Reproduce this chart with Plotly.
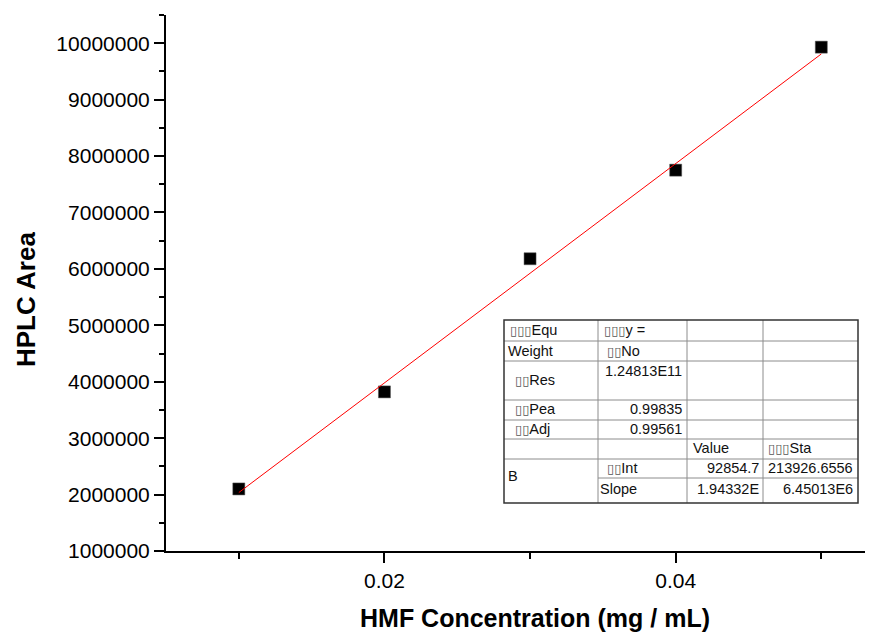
import re
import plotly.graph_objects as go

# ---------------- data ----------------
conc = [0.01, 0.02, 0.03, 0.04, 0.05]                      # mg / mL
area = [2100000, 3820000, 6180000, 7750000, 9930000]       # HPLC area
fit_slope = 1.94332e8
fit_intercept = 92854.7
fit_x = [0.01, 0.05]

x_tick_vals = [0.02, 0.04]
x_tick_text = ["0.02", "0.04"]
y_tick_vals = [1000000, 2000000, 3000000, 4000000, 5000000,
               6000000, 7000000, 8000000, 9000000, 10000000]
y_tick_text = ["1000000", "2000000", "3000000", "4000000", "5000000",
               "6000000", "7000000", "8000000", "9000000", "10000000"]

B = "\u25af"
table_col1 = [B*3 + "Equ", "Weight", B*2 + "Res", B*2 + "Pea", B*2 + "Adj", "", "B", ""]
table_col2 = [B*3 + "y =", B*2 + "No", "1.24813E11", "0.99835", "0.99561", "", B*2 + "Int", "Slope"]
table_col3 = ["", "", "", "", "", "Value", "92854.7", "1.94332E"]
table_col4 = ["", "", "", "", "", B*3 + "Sta", "213926.6556", "6.45013E6"]

# ---------------- layout geometry (pixels) ----------------
W, H = 880, 635
L, R, T, BOT = 166, 15, 15, 84
PW, PH = W - L - R, H - T - BOT


def px(xp):
    return (xp - L) / PW


def py(yp):
    return (H - BOT - yp) / PH


def boxes(s):
    return re.sub("(%s+)" % B,
                  r"<span style='font-size:13px;color:#555555'>\1</span>", s)


FONT = "Liberation Sans, Arial, DejaVu Sans"

fig = go.Figure()
fig.add_trace(go.Scatter(
    x=conc, y=area, mode="markers",
    marker=dict(symbol="square", size=12, color="black",
                line=dict(width=0.5, color="#555")),
    showlegend=False, hoverinfo="x+y"))
fig.add_trace(go.Scatter(
    x=fit_x, y=[fit_slope * v + fit_intercept for v in fit_x],
    mode="lines", line=dict(color="#ff0000", width=1),
    showlegend=False))

fig.update_layout(
    width=W, height=H,
    margin=dict(l=L, r=R, t=T, b=BOT, pad=0),
    paper_bgcolor="white", plot_bgcolor="white",
    font=dict(family=FONT, color="black"),
    xaxis=dict(range=[0.005, 0.053], showgrid=False, zeroline=False,
               showline=True, linecolor="black", linewidth=2,
               ticks="outside", ticklen=10, tickwidth=2, tickcolor="black",
               tickvals=x_tick_vals, ticktext=x_tick_text,
               tickfont=dict(size=21, family=FONT),
               minor=dict(tickvals=[0.01, 0.03, 0.05], ticks="outside",
                          ticklen=6, tickwidth=2, tickcolor="black")),
    yaxis=dict(range=[1000000, 10500000], showgrid=False, zeroline=False,
               showline=True, linecolor="black", linewidth=2,
               ticks="outside", ticklen=10, tickwidth=2, tickcolor="black",
               tickvals=y_tick_vals, ticktext=y_tick_text,
               tickfont=dict(size=21, family=FONT),
               minor=dict(dtick=500000, ticks="outside",
                          ticklen=5, tickwidth=2, tickcolor="black")),
)

annotations = [
    dict(text="<b>HMF Concentration (mg / mL)</b>", x=px(535), y=py(618),
         xref="paper", yref="paper", showarrow=False, xanchor="center",
         yanchor="middle", font=dict(size=25, family=FONT, color="black")),
    dict(text="<b>HPLC Area</b>", x=px(26), y=py(300), textangle=-90,
         xref="paper", yref="paper", showarrow=False, xanchor="center",
         yanchor="middle", font=dict(size=26, family=FONT, color="black")),
]

# ---------------- table ----------------
tx0, tx1 = 504, 858
col_lines = [598, 687, 763]
row_lines = [320, 341, 361, 400, 420, 439, 459, 478, 503]
shapes = []
for yl in row_lines[1:-1]:
    x_start = col_lines[0] if yl == 478 else tx0
    shapes.append(dict(type="line", xref="paper", yref="paper",
                       x0=px(x_start), x1=px(tx1), y0=py(yl), y1=py(yl),
                       line=dict(color="#8c8c8c", width=1)))
for xl in col_lines:
    shapes.append(dict(type="line", xref="paper", yref="paper",
                       x0=px(xl), x1=px(xl), y0=py(row_lines[0]), y1=py(row_lines[-1]),
                       line=dict(color="#8c8c8c", width=1)))
shapes.append(dict(type="rect", xref="paper", yref="paper",
                   x0=px(tx0), x1=px(tx1), y0=py(row_lines[0]), y1=py(row_lines[-1]),
                   line=dict(color="#333333", width=1.5), fillcolor="rgba(0,0,0,0)"))

row_y = [330, 351, 380, 409, 429, 448, 468, 489]
col1_x = [509, 507, 514, 514, 514, 509, 507, 509]
col2_spec = [(603, "left", 330), (606, "left", 351), (683, "right", 371),
             (683, "right", 409), (683, "right", 429), (603, "left", 448),
             (606, "left", 468), (599, "left", 489)]
col3_spec = (692, 760)
col4_spec = (767, 854)

cells = []
for i, t in enumerate(table_col1):
    if t:
        yy = 476 if t == "B" else row_y[i]
        cells.append((t, col1_x[i], yy, "left"))
for i, t in enumerate(table_col2):
    if t:
        xx, anc, yy = col2_spec[i]
        cells.append((t, xx, yy, anc))
for i, t in enumerate(table_col3):
    if t:
        if t == "Value":
            cells.append((t, col3_spec[0], row_y[i], "left"))
        else:
            cells.append((t, col3_spec[1], row_y[i], "right"))
for i, t in enumerate(table_col4):
    if t:
        if "Sta" in t:
            cells.append((t, col4_spec[0], row_y[i], "left"))
        else:
            cells.append((t, col4_spec[1], row_y[i], "right"))

for t, xx, yy, anc in cells:
    annotations.append(dict(text=boxes(t), x=px(xx), y=py(yy), xref="paper", yref="paper",
                            showarrow=False, xanchor=anc, yanchor="middle",
                            borderpad=0,
                            font=dict(size=14.5, family=FONT, color="#111111")))

fig.update_layout(annotations=annotations, shapes=shapes)
fig.write_html("out.html")
